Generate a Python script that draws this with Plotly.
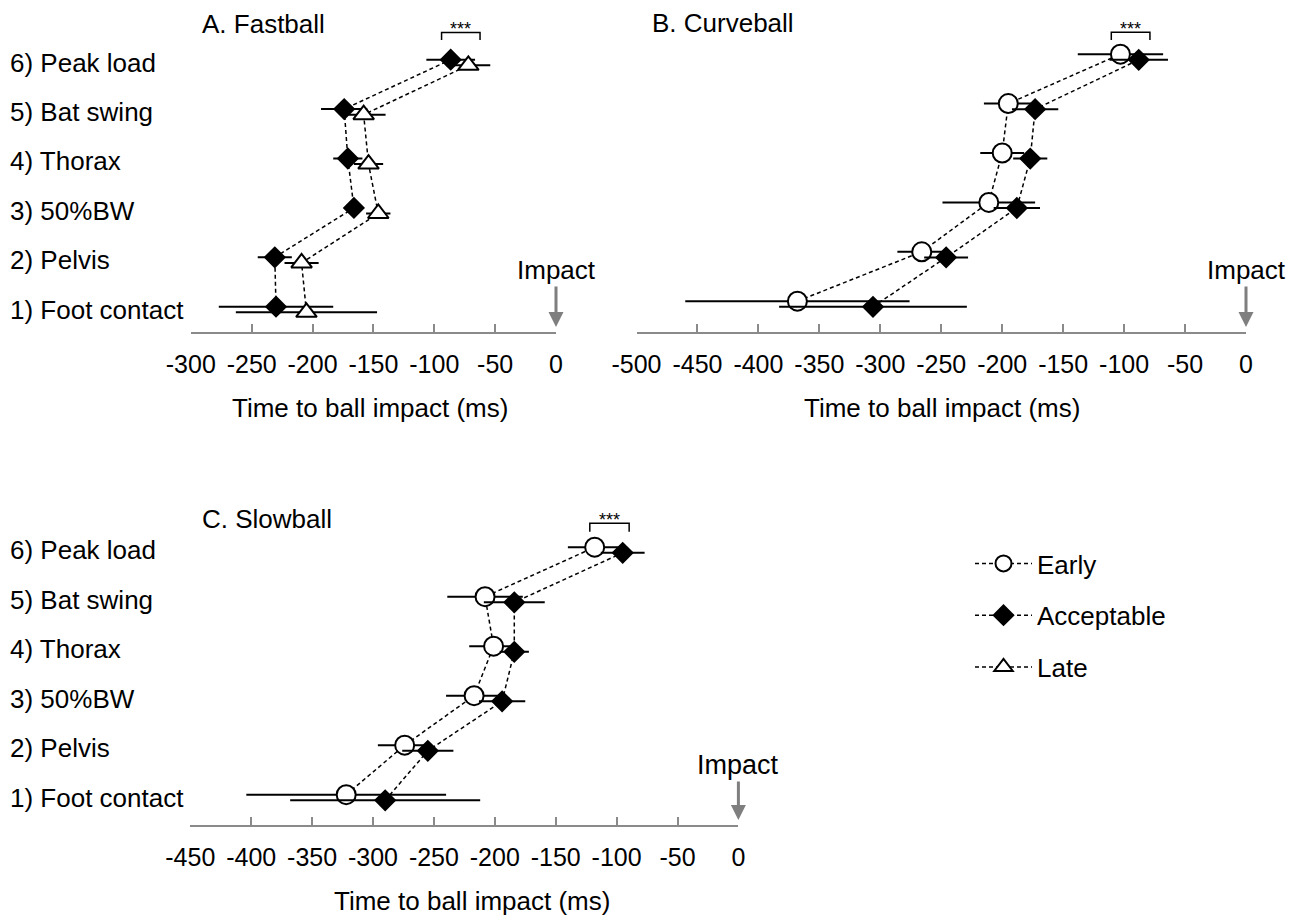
import plotly.graph_objects as go

# ---------------- data ----------------
categories = ["1) Foot contact", "2) Pelvis", "3) 50%BW", "4) Thorax", "5) Bat swing", "6) Peak load"]

# A. Fastball
fast_acc_mean = [-230, -231, -166, -171, -174, -86.5]
fast_acc_sd = [47, 14, 7, 12, 19, 20]
fast_late_mean = [-205, -209, -146, -154, -158, -72]
fast_late_sd = [58, 14, 10, 12, 18, 18]

# B. Curveball
curve_early_mean = [-368, -266, -211, -200, -195, -103]
curve_early_sd = [92, 20, 38, 18, 20, 35]
curve_acc_mean = [-306, -246, -188, -177, -173, -88]
curve_acc_sd = [77, 18, 19, 14, 19, 24]

# C. Slowball
slow_early_mean = [-322, -274, -217, -201, -208, -118]
slow_early_sd = [82, 22, 23, 20, 31, 22]
slow_acc_mean = [-290, -255, -194, -184, -184, -95]
slow_acc_sd = [78, 21, 19, 12, 25, 18]

# x-axis ticks
fast_ticks = [-300, -250, -200, -150, -100, -50, 0]
curve_ticks = [-500, -450, -400, -350, -300, -250, -200, -150, -100, -50, 0]
slow_ticks = [-450, -400, -350, -300, -250, -200, -150, -100, -50, 0]

# significance brackets (x extent, ms)
fast_sig = [-94, -62.4]
curve_sig = [-110.5, -78.8]
slow_sig = [-122, -89.7]

panel_titles = ["A. Fastball", "B. Curveball", "C. Slowball"]
series_names = ["Early", "Acceptable", "Late"]
axis_title = "Time to ball impact (ms)"
impact_label = "Impact"
sig_label = "***"

# ---------------- layout (pixels, page coordinates) ----------------
PAGE_W, PAGE_H = 1303, 920
OX, OY = 8, 8                      # default page body margin
W, H = PAGE_W - OX, PAGE_H - OY    # figure size
FONT = "Liberation Sans, Arial, sans-serif"
GRAY = "#8a8a8a"


def px(x):
    return (x - OX) / W


def py(y):
    return 1 - (y - OY) / H


panels = [
    dict(key="A", title=panel_titles[0], xl=190.8, xr=556, yt=15, yb=331.7, row1=309.5, sp=49.4,
         ticks=fast_ticks, rng=[-300, 0], sig=fast_sig, sigtop=30, sigleg=22.5,
         title_x=200, title_y=24, xt_x=370, xt_y=407.5, imp_tip=327, imp_ay=-57, imp_size=26,
         labels=True,
         series=[("Acceptable", fast_acc_mean, fast_acc_sd), ("Late", fast_late_mean, fast_late_sd)]),
    dict(key="B", title=panel_titles[1], xl=636.5, xr=1246, yt=15, yb=331.7, row1=304, sp=49.4,
         ticks=curve_ticks, rng=[-500, 0], sig=curve_sig, sigtop=24.7, sigleg=17,
         title_x=649.5, title_y=23, xt_x=942, xt_y=407.5, imp_tip=327, imp_ay=-57, imp_size=26,
         labels=False,
         series=[("Early", curve_early_mean, curve_early_sd), ("Acceptable", curve_acc_mean, curve_acc_sd)]),
    dict(key="C", title=panel_titles[2], xl=190.3, xr=738.4, yt=505, yb=825, row1=797.5, sp=49.5,
         ticks=slow_ticks, rng=[-450, 0], sig=slow_sig, sigtop=26.7, sigleg=18.3,
         title_x=200, title_y=519, xt_x=472, xt_y=901, imp_tip=820, imp_ay=-55, imp_size=27,
         labels=True,
         series=[("Early", slow_early_mean, slow_early_sd), ("Acceptable", slow_acc_mean, slow_acc_sd)]),
]

styles = {
    "Early": dict(symbol="circle", size=19, color="white"),
    "Acceptable": dict(symbol="diamond", size=15, color="black"),
    "Late": dict(symbol="triangle-up", size=18, color="white"),
}
rank = {"Early": 1, "Acceptable": 2, "Late": 3}

fig = go.Figure()
annotations = []
shown = set()
OFF_PX = 2.8

for k, p in enumerate(panels):
    n = "" if k == 0 else str(k + 1)
    xa, ya = "x" + n, "y" + n
    sp = p["sp"]
    ybot = 1 - (p["yb"] - p["row1"]) / sp
    ytop = 1 + (p["row1"] - p["yt"]) / sp
    off = OFF_PX / sp
    idx = list(range(1, len(categories) + 1))

    for j, (name, mean, sd) in enumerate(p["series"]):
        sign = 1 if j == 0 else -1
        st = styles[name]
        show = name not in shown
        shown.add(name)
        fig.add_trace(go.Scatter(
            x=mean, y=[i + sign * off for i in idx],
            xaxis=xa, yaxis=ya, name=name, legendgroup=name, legendrank=rank[name],
            showlegend=show, mode="lines+markers", cliponaxis=False,
            line=dict(color="black", width=1.5, dash="4px,3px"),
            marker=dict(symbol=st["symbol"], size=st["size"], color=st["color"],
                        line=dict(color="black", width=2)),
            error_x=dict(type="data", array=sd, visible=True, color="black",
                         thickness=2, width=0),
            hoverinfo="skip",
        ))

    # significance bracket
    top_y = len(categories) + p["sigtop"] / sp
    leg_y = len(categories) + p["sigleg"] / sp
    fig.add_trace(go.Scatter(
        x=[p["sig"][0], p["sig"][0], p["sig"][1], p["sig"][1]],
        y=[leg_y, top_y, top_y, leg_y], xaxis=xa, yaxis=ya, mode="lines",
        line=dict(color="black", width=1.5), showlegend=False, hoverinfo="skip",
        cliponaxis=False))
    annotations.append(dict(text=sig_label, x=(p["sig"][0] + p["sig"][1]) / 2, y=top_y,
                            xref=xa, yref=ya, showarrow=False, yanchor="bottom",
                            yshift=-9, font=dict(size=18, family=FONT, color="black")))

    xdom = [px(p["xl"]), px(p["xr"])]
    ydom = [py(p["yb"]), py(p["yt"])]
    fig.layout["xaxis" + n] = dict(
        domain=xdom, range=p["rng"], anchor=ya, showgrid=False, zeroline=False,
        automargin=False,
        showline=True, linecolor=GRAY, linewidth=2, ticks="inside", ticklen=8,
        tickwidth=2, tickcolor=GRAY, tickvals=p["ticks"],
        ticktext=[str(v) for v in p["ticks"]], ticklabelstandoff=9,
        tickfont=dict(size=25, family=FONT, color="black"), fixedrange=True)
    fig.layout["yaxis" + n] = dict(
        domain=ydom, range=[ybot, ytop], anchor=xa, showgrid=False, zeroline=False,
        automargin=False,
        showline=False, showticklabels=False, ticks="", fixedrange=True)

    # panel title
    annotations.append(dict(text=p["title"], x=px(p["title_x"]), y=py(p["title_y"]),
                            xref="paper", yref="paper", xanchor="left", yanchor="middle",
                            showarrow=False, font=dict(size=26, family=FONT, color="black")))
    # axis title
    annotations.append(dict(text=axis_title, x=px(p["xt_x"]), y=py(p["xt_y"]),
                            xref="paper", yref="paper", xanchor="center", yanchor="middle",
                            showarrow=False, font=dict(size=26, family=FONT, color="black")))
    # impact arrow
    annotations.append(dict(text=impact_label, x=0, xref=xa, y=py(p["imp_tip"]), yref="paper",
                            showarrow=True, ax=0, ay=p["imp_ay"], arrowhead=2, arrowsize=1,
                            arrowwidth=3, arrowcolor="#7f7f7f", standoff=0,
                            font=dict(size=p["imp_size"], family=FONT, color="black")))
    # category labels
    if p["labels"]:
        for i, lab in enumerate(categories, start=1):
            annotations.append(dict(text=lab, x=px(8), xref="paper", y=i, yref=ya,
                                    xanchor="left", yanchor="middle", showarrow=False,
                                    font=dict(size=26, family=FONT, color="black")))

fig.update_layout(
    template="none",
    width=W, height=H, margin=dict(l=0, r=0, t=0, b=0, pad=0, autoexpand=False),
    paper_bgcolor="white", plot_bgcolor="white",
    font=dict(family=FONT, size=26, color="black"),
    annotations=annotations,
    showlegend=True,
    legend=dict(x=px(970), y=py(540), xanchor="left", yanchor="top",
                traceorder="grouped", tracegroupgap=15, itemwidth=57,
                font=dict(size=26, family=FONT, color="black"),
                bgcolor="rgba(0,0,0,0)", borderwidth=0),
)

fig.write_html("out.html")
